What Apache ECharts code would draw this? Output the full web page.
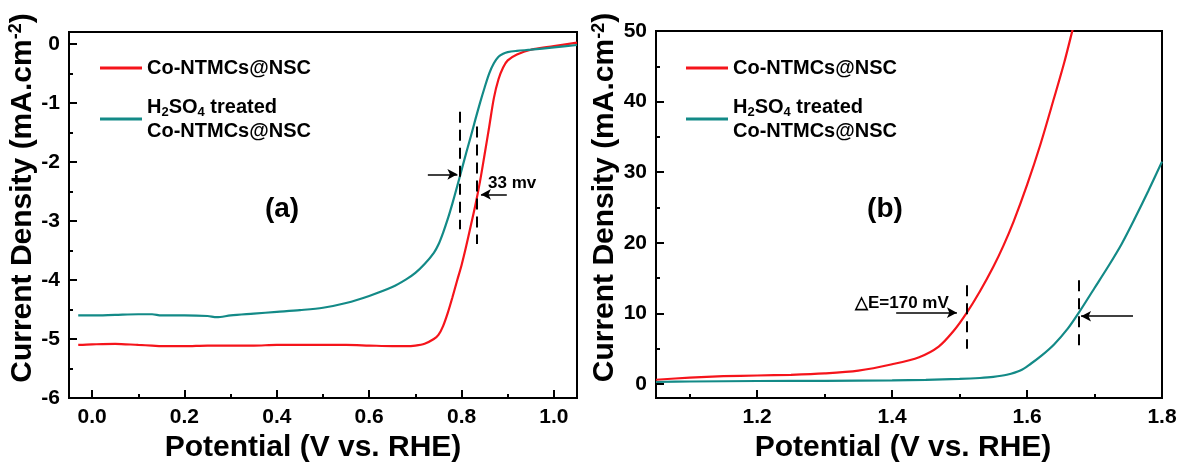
<!DOCTYPE html>
<html>
<head>
<meta charset="utf-8">
<script src="https://cdn.jsdelivr.net/npm/echarts@6/dist/echarts.min.js"></script>
<style>
  html, body { margin: 0; padding: 0; background: #fff; }
  #chart { width: 1181px; height: 468px; }
</style>
</head>
<body>
<div id="chart"></div>
<script>
// (a) ORR polarisation curves
var potentialA = [-0.03, 0.0, 0.05, 0.1, 0.13, 0.15, 0.2, 0.25, 0.27, 0.3, 0.35, 0.4, 0.45, 0.5, 0.55, 0.6, 0.65, 0.68, 0.7, 0.72,
  0.74, 0.75, 0.76, 0.77, 0.78, 0.79, 0.8, 0.81, 0.82, 0.83, 0.84, 0.85, 0.86, 0.87, 0.88, 0.89, 0.9, 0.92, 0.95, 1.0, 1.05];
var redA = [-5.10, -5.09, -5.08, -5.10, -5.11, -5.12, -5.12, -5.11, -5.11, -5.11, -5.11, -5.10, -5.10, -5.10, -5.10, -5.11, -5.12, -5.12, -5.11, -5.08,
  -5.00, -4.93, -4.78, -4.56, -4.30, -4.02, -3.75, -3.43, -3.08, -2.73, -2.33, -1.87, -1.40, -0.92, -0.60, -0.40, -0.28, -0.18, -0.10, -0.04, 0.02];
var tealA = [-4.60, -4.60, -4.59, -4.58, -4.58, -4.60, -4.60, -4.61, -4.63, -4.60, -4.57, -4.54, -4.51, -4.47, -4.39, -4.27, -4.12, -3.99, -3.88, -3.73,
  -3.54, -3.40, -3.20, -2.97, -2.71, -2.43, -2.14, -1.85, -1.57, -1.28, -1.00, -0.74, -0.50, -0.33, -0.22, -0.17, -0.14, -0.12, -0.10, -0.06, -0.02];

// (b) OER polarisation curves
var potentialRedB = [1.05, 1.1, 1.15, 1.2, 1.25, 1.3, 1.35, 1.4, 1.44, 1.469, 1.491, 1.51, 1.53, 1.55, 1.565, 1.58, 1.6, 1.62, 1.64, 1.655, 1.667, 1.68];
var redB = [0.6, 0.9, 1.1, 1.2, 1.3, 1.5, 1.9, 2.8, 3.8, 5.3, 7.5, 10.0, 13.1, 16.6, 19.6, 23.0, 28.2, 34.0, 40.5, 45.5, 50.0, 55.0];
var potentialTealB = [1.05, 1.1, 1.2, 1.3, 1.4, 1.45, 1.5, 1.53, 1.55, 1.57, 1.59, 1.606, 1.62, 1.64, 1.66, 1.676, 1.7, 1.72, 1.74, 1.76, 1.78, 1.8];
var tealB = [0.28, 0.35, 0.42, 0.45, 0.5, 0.58, 0.72, 0.85, 1.0, 1.3, 1.9, 2.9, 3.9, 5.6, 7.8, 10.0, 13.6, 16.6, 19.8, 23.5, 27.4, 31.5];

// tick labels
var xTicksA = [0, 0.2, 0.4, 0.6, 0.8, 1.0];
var xMinorA = [0.1, 0.3, 0.5, 0.7, 0.9];
var yTicksA = [-6, -5, -4, -3, -2, -1, 0];
var yMinorA = [-5.5, -4.5, -3.5, -2.5, -1.5, -0.5];
var xTicksB = [1.2, 1.4, 1.6, 1.8];
var xMinorB = [1.1, 1.3, 1.5, 1.7];
var yTicksB = [0, 10, 20, 30, 40, 50];
var yMinorB = [5, 15, 25, 35, 45];

// annotation guides (data space): [x, yTop, yBottom] and arrows [xFrom, xTo, y]
var dashA = [[0.797, -1.15, -3.14], [0.833, -1.40, -3.39]];
var arrowA = [[0.727, 0.791, -2.21], [0.898, 0.842, -2.55]];
var dashB = [[1.51, 14.0, 5.0], [1.676, 14.7, 5.4]];
var arrowB = [[1.406, 1.496, 10.1], [1.757, 1.680, 9.6]];

var NAME_RED = 'Co-NTMCs@NSC';
var NAME_TEAL = 'H2SO4 treated Co-NTMCs@NSC';
var RED = '#f5141b';
var TEAL = '#138a87';
var FONT = '"Liberation Sans", Arial, sans-serif';

function pairs(xs, ys) {
  return xs.map(function (x, i) { return [x, ys[i]]; });
}
function dashLines(list) {
  return list.map(function (d) { return [{ coord: [d[0], d[1]] }, { coord: [d[0], d[2]] }]; });
}
function arrowLines(list) {
  return list.map(function (d) { return [{ coord: [d[0], d[2]] }, { coord: [d[1], d[2]] }]; });
}

function mainX(grid, min, max, ticks, shift) {
  return {
    type: 'value', gridIndex: grid, min: min, max: max, position: 'bottom',
    name: 'Potential (V vs. RHE)', nameLocation: 'middle', nameGap: 33,
    nameTextStyle: { fontSize: 30, fontWeight: 'bold', fontFamily: FONT, color: '#000', padding: [0, shift, 0, 0] },
    axisLine: { onZero: false, lineStyle: { color: '#000', width: 2 } },
    axisTick: { inside: true, length: 8, customValues: ticks, lineStyle: { color: '#000', width: 2 } },
    axisLabel: { customValues: ticks, margin: 9, fontSize: 21, fontWeight: 'bold', fontFamily: FONT, color: '#000',
      formatter: function (v) { return v.toFixed(1); } },
    splitLine: { show: false }
  };
}
function minorX(grid, min, max, ticks) {
  return {
    type: 'value', gridIndex: grid, min: min, max: max, position: 'bottom',
    axisLine: { show: false, onZero: false },
    axisTick: { inside: true, length: 4, customValues: ticks, lineStyle: { color: '#000', width: 2 } },
    axisLabel: { show: false }, splitLine: { show: false }
  };
}
function mainY(grid, min, max, ticks, gap) {
  return {
    type: 'value', gridIndex: grid, min: min, max: max, position: 'left',
    name: 'Current Density (mA.cm{sup|-2})', nameLocation: 'middle', nameGap: gap,
    nameTextStyle: { fontSize: 30, fontWeight: 'bold', fontFamily: FONT, color: '#000', padding: [0, 0, 0, 34],
      rich: { sup: { fontSize: 18, fontWeight: 'bold', fontFamily: FONT, color: '#000', verticalAlign: 'top' } } },
    axisLine: { onZero: false, lineStyle: { color: '#000', width: 2 } },
    axisTick: { inside: true, length: 8, customValues: ticks, lineStyle: { color: '#000', width: 2 } },
    axisLabel: { customValues: ticks, margin: 9, fontSize: 21, fontWeight: 'bold', fontFamily: FONT, color: '#000' },
    splitLine: { show: false }
  };
}
function minorY(grid, min, max, ticks) {
  return {
    type: 'value', gridIndex: grid, min: min, max: max, position: 'left',
    axisLine: { show: false, onZero: false },
    axisTick: { inside: true, length: 4, customValues: ticks, lineStyle: { color: '#000', width: 2 } },
    axisLabel: { show: false }, splitLine: { show: false }
  };
}
function legendAt(left) {
  return {
    left: left, top: 56, padding: 0, orient: 'vertical', itemWidth: 42, itemHeight: 3, itemGap: 15,
    icon: 'rect', selectedMode: false,
    data: [NAME_RED, NAME_TEAL],
    formatter: function (name) {
      return name === NAME_TEAL ? 'H{sub|2}SO{sub|4} treated\nCo-NTMCs@NSC' : name;
    },
    textStyle: {
      fontSize: 20, fontWeight: 'bold', fontFamily: FONT, color: '#000', lineHeight: 24,
      rich: { sub: { fontSize: 13, fontWeight: 'bold', fontFamily: FONT, color: '#000', lineHeight: 13, verticalAlign: 'bottom' } }
    }
  };
}
function curve(name, color, data, xi, yi, markLine) {
  return {
    type: 'line', name: name, data: data, xAxisIndex: xi, yAxisIndex: yi,
    showSymbol: false, smooth: 0.3, color: color,
    lineStyle: { color: color, width: 2.2 },
    markLine: markLine
  };
}
function dashMark(list) {
  return {
    silent: true, symbol: 'none', animation: false, label: { show: false },
    lineStyle: { color: '#000', width: 2, type: [11, 7] }, data: dashLines(list)
  };
}
function arrowMark(list) {
  return {
    silent: true, symbol: ['none', 'arrow'], symbolSize: [8, 10], animation: false, label: { show: false },
    lineStyle: { color: '#000', width: 1.5, type: 'solid' }, data: arrowLines(list)
  };
}

var chart = echarts.init(document.getElementById('chart'));
chart.setOption({
  animation: false,
  backgroundColor: '#fff',
  grid: [
    { left: 69, right: 604, top: 32, bottom: 63, show: true, borderColor: '#000', borderWidth: 2 },
    { left: 656, right: 19, top: 31, bottom: 63, show: true, borderColor: '#000', borderWidth: 2 }
  ],
  legend: [legendAt(100), legendAt(686)],
  xAxis: [
    mainX(0, -0.05, 1.05, xTicksA, 20), minorX(0, -0.05, 1.05, xMinorA),
    mainX(1, 1.05, 1.8, xTicksB, 12), minorX(1, 1.05, 1.8, xMinorB)
  ],
  yAxis: [
    mainY(0, -6, 0.2, yTicksA, 28), minorY(0, -6, 0.2, yMinorA),
    mainY(1, -2, 50, yTicksB, 29), minorY(1, -2, 50, yMinorB)
  ],
  series: [
    curve(NAME_RED, RED, pairs(potentialA, redA), 0, 0, dashMark(dashA)),
    curve(NAME_TEAL, TEAL, pairs(potentialA, tealA), 0, 0, arrowMark(arrowA)),
    curve(NAME_RED, RED, pairs(potentialRedB, redB), 2, 2, dashMark(dashB)),
    curve(NAME_TEAL, TEAL, pairs(potentialTealB, tealB), 2, 2, arrowMark(arrowB))
  ],
  graphic: [
    { type: 'text', x: 282, y: 209, style: { text: '(a)', fontSize: 28, fontWeight: 'bold', fontFamily: FONT, fill: '#000', align: 'center', verticalAlign: 'middle' } },
    { type: 'text', x: 488, y: 183, style: { text: '33 mv', fontSize: 17, fontWeight: 'bold', fontFamily: FONT, fill: '#000', align: 'left', verticalAlign: 'middle' } },
    { type: 'text', x: 885, y: 209, style: { text: '(b)', fontSize: 28, fontWeight: 'bold', fontFamily: FONT, fill: '#000', align: 'center', verticalAlign: 'middle' } },
    { type: 'text', x: 855, y: 303, style: { text: '\u25B3E=170 mV', fontSize: 17, fontWeight: 'bold', fontFamily: FONT, fill: '#000', align: 'left', verticalAlign: 'middle' } }
  ]
});
</script>
</body>
</html>
